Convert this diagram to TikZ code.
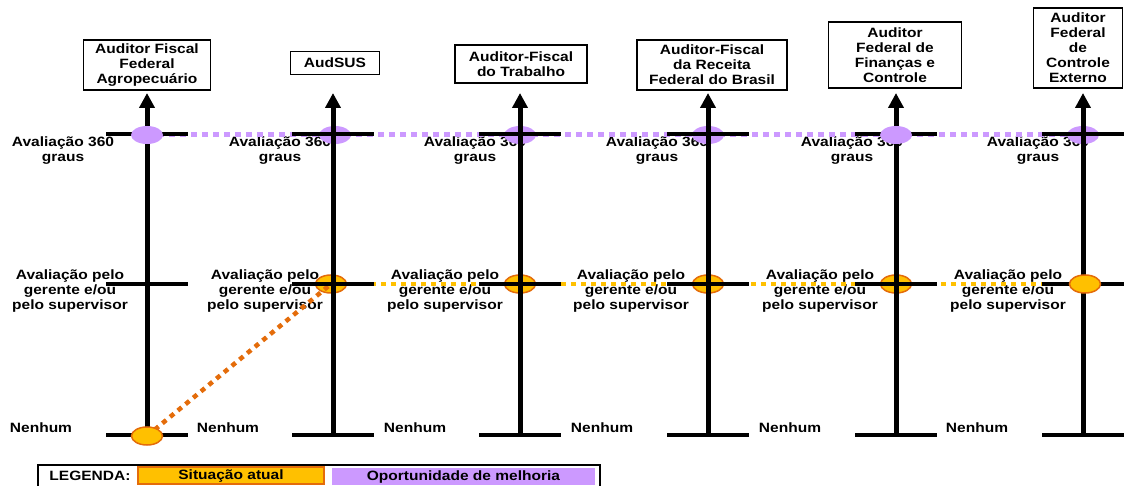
\documentclass[tikz,border=0pt]{standalone}
\usepackage{fontspec}
\setmainfont[FakeStretch=1.15]{Liberation Sans}
\usetikzlibrary{shapes,arrows.meta}
\definecolor{atual}{RGB}{255,192,0}
\definecolor{atualedge}{RGB}{228,108,10}
\definecolor{melhoria}{RGB}{204,153,255}
\newcommand{\chartfont}{\fontsize{13.5}{15}\selectfont\bfseries}
\tikzstyle{career} = [rectangle, draw, line width=1.2pt, align=center,
    inner sep=2pt, font=\chartfont]
\tikzstyle{level} = [align=center, font=\chartfont]
\tikzstyle{axis} = [draw, line width=5pt, -{Triangle[width=15pt,length=15pt]}]
\tikzstyle{tick} = [draw, line width=4pt]
\tikzstyle{now} = [ellipse, draw=atualedge, line width=1.5pt, fill=atual,
    minimum width=31pt, minimum height=18pt, inner sep=0pt]
\tikzstyle{opp} = [ellipse, fill=melhoria, minimum width=32pt,
    minimum height=18pt, inner sep=0pt]
\tikzstyle{legbox} = [font=\chartfont, inner sep=0pt, minimum height=17pt,
    text height=9pt, text depth=1pt]
\tikzstyle{oppline} = [draw=melhoria, line width=5pt, dash pattern=on 6pt off 5pt]
\tikzstyle{nowline} = [draw=atual, line width=4.5pt, dash pattern=on 5pt off 5pt]
\tikzstyle{moveline} = [draw=atualedge, line width=4.5pt, dash pattern=on 5pt off 5pt]

\begin{document}
\begin{tikzpicture}[x=1pt, y=-1pt]
    \useasboundingbox (0,0) rectangle (1128,486);
    % Careers
    \node [career, minimum width=127pt, minimum height=50pt] (affa) at (147,65) {Auditor Fiscal\\Federal\\Agropecuário};
    \node [career, minimum width=89pt, minimum height=23pt] (audsus) at (335,63) {AudSUS};
    \node [career, minimum width=132pt, minimum height=38pt] (aft) at (521,64) {Auditor-Fiscal\\do Trabalho};
    \node [career, minimum width=150pt, minimum height=50pt] (afrfb) at (712,65) {Auditor-Fiscal\\da Receita\\Federal do Brasil};
    \node [career, minimum width=133pt, minimum height=66pt] (affc) at (895,55) {Auditor\\Federal de\\Finanças e\\Controle};
    \node [career, minimum width=89pt, minimum height=80pt] (afce) at (1078,48) {Auditor\\Federal\\de\\Controle\\Externo};
    % Levels
    \node [level] (deg1) at (63,151) {Avaliação 360\\graus};
    \node [level] (deg2) at (280,151) {Avaliação 360\\graus};
    \node [level] (deg3) at (475,151) {Avaliação 360\\graus};
    \node [level] (deg4) at (657,151) {Avaliação 360\\graus};
    \node [level] (deg5) at (852,151) {Avaliação 360\\graus};
    \node [level] (deg6) at (1038,151) {Avaliação 360\\graus};
    \node [level] (ger1) at (70,291) {Avaliação pelo\\gerente e/ou\\pelo supervisor};
    \node [level] (ger2) at (265,291) {Avaliação pelo\\gerente e/ou\\pelo supervisor};
    \node [level] (ger3) at (445,291) {Avaliação pelo\\gerente e/ou\\pelo supervisor};
    \node [level] (ger4) at (631,291) {Avaliação pelo\\gerente e/ou\\pelo supervisor};
    \node [level] (ger5) at (820,291) {Avaliação pelo\\gerente e/ou\\pelo supervisor};
    \node [level] (ger6) at (1008,291) {Avaliação pelo\\gerente e/ou\\pelo supervisor};
    \foreach \x/\n in {41/1,228/2,415/3,602/4,790/5,977/6}
        \node [level] (none\n) at (\x,428) {Nenhum};
    % Marks behind the axes
    \node [opp] (opp2) at (335,135) {};
    \node [opp] (opp3) at (520,135) {};
    \node [opp] (opp4) at (708,135) {};
    \node [opp] (opp6) at (1083,135) {};
    \node [now] (now2) at (331,284) {};
    \node [now] (now3) at (520,284) {};
    \node [now] (now4) at (708,284) {};
    \node [now] (now5) at (896,284) {};
    % Draw edges
    \path [oppline] (147,135) -- (opp6.center);
    \path [nowline] (now2.center) -- (1083,284);
    \path [moveline] (147,436) -- (now2.center);
    % Axes
    \foreach \x/\n in {147/1,333/2,520/3,708/4,896/5,1083/6} {
        \coordinate (base\n) at (\x,435);
        \coordinate (top\n) at (\x,93);
        \path [tick] (\x-41,134) -- (\x+41,134);
        \path [tick] (\x-41,284) -- (\x+41,284);
        \path [tick] (\x-41,435) -- (\x+41,435);
        \path [axis] (base\n) -- (top\n);
    }
    % Marks in front of the axes
    \node [opp] (opp1) at (147,135) {};
    \node [opp] (opp5) at (896,135) {};
    \node [now] (now6) at (1085,284) {};
    \node [now] (now1) at (147,436) {};
    % Legend
    \draw [line width=1.2pt] (38,465) rectangle (600,495);
    \node [legbox] (leg) at (90,476.5) {LEGENDA:};
    \node [legbox, fill=atual, draw=atualedge, line width=1.5pt,
        minimum width=186pt] (legnow) at (231,475.5) {Situação atual};
    \node [legbox, fill=melhoria, minimum width=263pt] (legopp) at (463.5,476.5) {Oportunidade de melhoria};
\end{tikzpicture}
\end{document}
